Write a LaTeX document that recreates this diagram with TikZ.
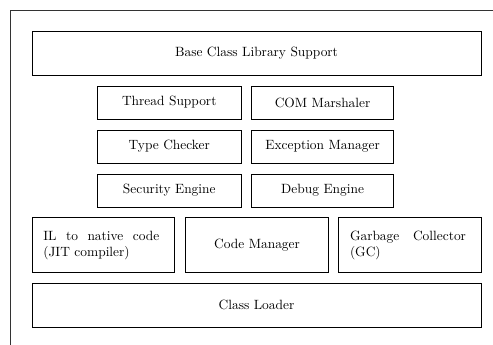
\documentclass[tikz,border=0pt]{standalone}
\begin{document}
\begin{tikzpicture}[x=0.745pt,y=-0.745pt,
  box/.style={draw, line width=0.6pt, inner sep=0pt, outer sep=0pt, rectangle, align=center},
  frame/.style={draw, line width=0.6pt, black!80}]
\useasboundingbox (0,0) rectangle (493,345);
\coordinate (ftr) at (493,10);
\coordinate (ftl) at (10,10);
\coordinate (fbl) at (10,345);
\draw[frame] (ftr) -- (ftl) -- (fbl);
\node[box, minimum width=334.5pt, minimum height=32.8pt] (base) at (256.5,53) {Base Class Library Support};
\node[box, minimum width=107.7pt, minimum height=24.6pt] (thread) at (169.25,102.5) {Thread Support};
\node[box, minimum width=105.8pt, minimum height=24.6pt] (com) at (322.6,102.5) {COM Marshaler};
\node[box, minimum width=107.7pt, minimum height=24.6pt] (type) at (169.25,146.5) {Type Checker};
\node[box, minimum width=105.8pt, minimum height=24.6pt] (exc) at (322.6,146.5) {Exception Manager};
\node[box, minimum width=107.7pt, minimum height=24.6pt] (sec) at (169.25,190.5) {Security Engine};
\node[box, minimum width=105.8pt, minimum height=24.6pt] (dbg) at (322.6,190.5) {Debug Engine};
\node[box, minimum width=106.3pt, minimum height=41pt] (il) at (103.3,245.2) {};
\node[align=justify, text width=86.4pt, inner sep=0pt] (iltext) at (101.3,245.2) {IL to native code (JIT compiler)};
\node[box, minimum width=106.8pt, minimum height=41pt] (code) at (257,245.2) {Code Manager};
\node[box, minimum width=106.3pt, minimum height=41pt] (gc) at (410,245.2) {};
\node[align=justify, text width=86.4pt, inner sep=0pt] (gctext) at (408,245.2) {Garbage Collector (GC)};
\node[box, minimum width=334.5pt, minimum height=32.3pt] (loader) at (256.5,305.3) {Class Loader};
\end{tikzpicture}
\end{document}
